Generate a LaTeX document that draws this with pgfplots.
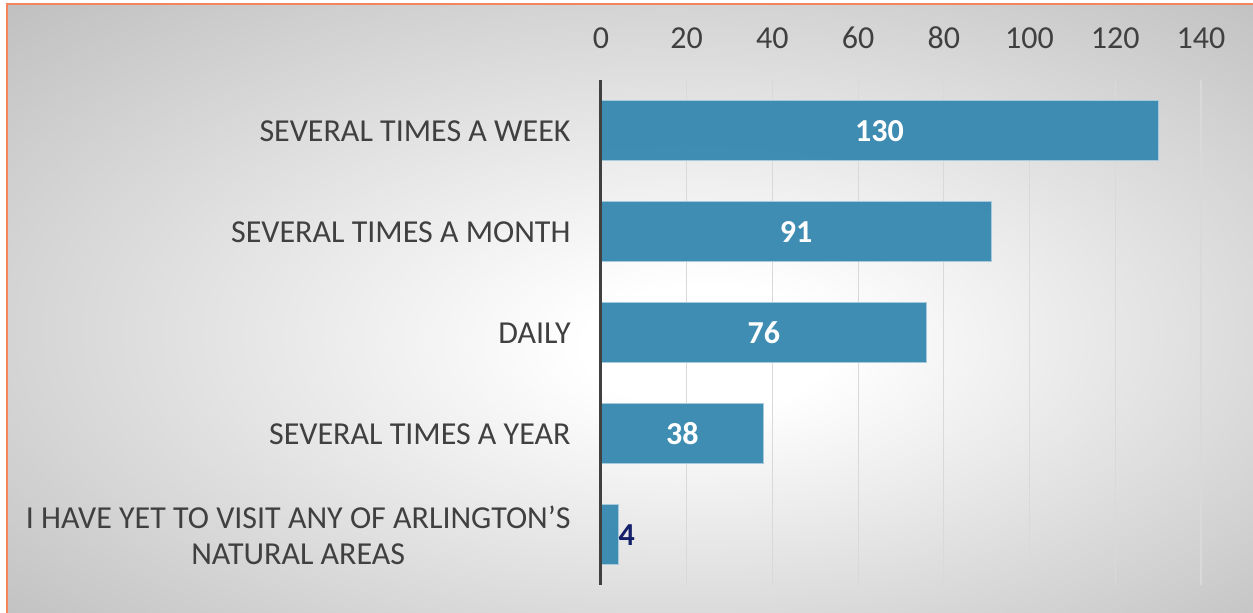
\documentclass[border=0pt]{standalone}
\usepackage{pgfplots}
\pgfplotsset{compat=1.18}
\usepackage{pgfplotstable}
\usepackage{fontspec}
\setmainfont{Carlito}
\definecolor{barblue}{HTML}{3A8AB1}
\definecolor{txtgray}{HTML}{404040}
\definecolor{orangeb}{HTML}{F4845A}
\definecolor{navy}{HTML}{14206A}
\pgfdeclareradialshading{bgshade}{\pgfpoint{3.5bp}{-3.5bp}}{color(0bp)=(white); color(5bp)=(white); color(37bp)=(black!25); color(50bp)=(black!25)}
\pgfplotstableread{
y v
0 130
1 91
2 76
3 38
4 4
}\datatable
\begin{document}
\begin{tikzpicture}[x=1pt,y=1pt]
\useasboundingbox (0,0) rectangle (626.5,306.5);
\fill[white] (0,0) rectangle (626.5,306.5);
\shade[shading=bgshade] (3.5,0) rectangle (626.5,304.5);
\draw[orangeb, line width=1pt] (3.5,0) -- (3.5,304.5) -- (626.5,304.5);
\begin{axis}[
  at={(300.5pt,13.75pt)}, anchor=south west,
  scale only axis, width=300pt, height=252.5pt,
  xmin=0, xmax=140, ymin=-0.5, ymax=4.5, y dir=reverse,
  axis line style={draw=none},
  /pgf/number format/assume math mode=true,
  xtick={0,20,...,140}, xticklabel pos=upper,
  major tick length=0pt,
  xmajorgrids, major grid style={color=black!15, line width=0.6pt},
  xticklabel style={font=\fontsize{16}{19}\selectfont, text=txtgray, anchor=base, yshift=16pt},
  ytick={0,1,2,3,4},
  yticklabels={{SEVERAL TIMES A WEEK},{SEVERAL TIMES A MONTH},{DAILY},{SEVERAL TIMES A YEAR},{I HAVE YET TO VISIT ANY OF ARLINGTON’S\\NATURAL AREAS}},
  yticklabel style={font=\fontsize{16}{18}\selectfont, text=txtgray, align=center, anchor=east, inner sep=0pt, xshift=-15pt},
  clip=false,
]
\addplot[xbar, bar width=30pt, fill=barblue, fill opacity=0.97, draw=barblue!45!white, line width=0.5pt] table[x=v,y=y]{\datatable};
\addplot[draw=none, mark=none, nodes near coords, point meta=explicit,
  nodes near coords style={font=\bfseries\fontsize{16}{19}\selectfont, text=white, anchor=center},
  skip coords between index={4}{5}] table[x expr=\thisrow{v}/2, y=y, meta=v]{\datatable};
\addplot[draw=none, mark=none, nodes near coords, point meta=explicit,
  nodes near coords style={font=\bfseries\fontsize{16}{19}\selectfont, text=navy, anchor=west, inner sep=0pt},
  skip coords between index={0}{4}] table[x=v, y=y, meta=v]{\datatable};
\draw[txtgray, line width=1.5pt] (axis cs:0,-0.5) -- (axis cs:0,4.5);
\end{axis}
\end{tikzpicture}
\end{document}
